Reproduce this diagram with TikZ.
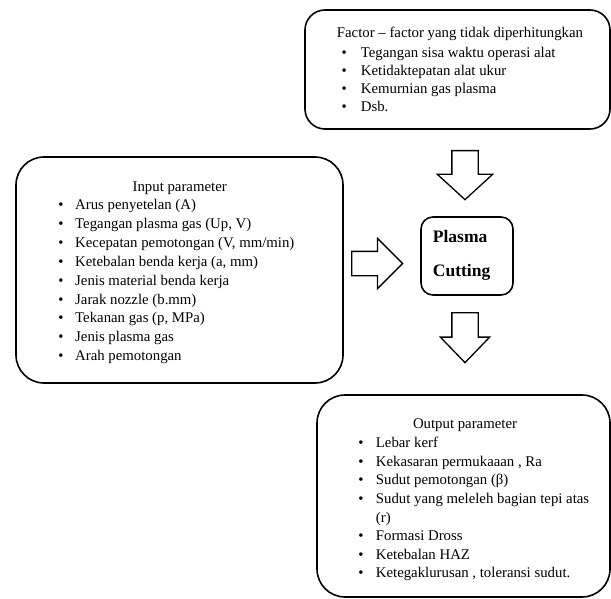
\documentclass[tikz,border=0pt]{standalone}
\usepackage{fontspec}
\setmainfont{Liberation Serif}
\usetikzlibrary{shapes.arrows, positioning}

\newcommand{\bul}[1]{\makebox[#1][l]{\textbullet}}

\begin{document}
\begin{tikzpicture}[x=1pt,y=1pt,
                    box/.style={draw,line width=1.6pt,rounded corners=28pt},
                    item/.style={anchor=base west,inner sep=0pt,font=\fontsize{14.8}{18}\selectfont},
                    ptext/.style={anchor=base west,inner sep=0pt,font=\bfseries\fontsize{17.5}{20}\selectfont},
                    blockarrow/.style={single arrow,draw,line width=1.3pt,inner xsep=0pt,single arrow head indent=0pt,anchor=tail}]

  \useasboundingbox (0,0) rectangle (611,-599);

  % boxes
  \node[box,rounded corners=20pt,minimum width=305pt,minimum height=119pt] (factor) at (457.5,-69.5) {};
  \node[box,minimum width=327pt,minimum height=226pt] (input) at (179.5,-270) {};
  \node[box,minimum width=293pt,minimum height=202pt] (output) at (463.5,-496) {};
  \node[box,rounded corners=12pt,minimum width=92pt,minimum height=78pt] (plasma) at (467,-256) {};

  % block arrows
  \node[blockarrow,rotate=-90,minimum height=49pt,inner ysep=12.5pt,
        single arrow head extend=14.5pt,single arrow tip angle=95] (down1) at (465,-150) {};
  \node[blockarrow,minimum height=51pt,inner ysep=11.5pt,
        single arrow head extend=13pt,single arrow tip angle=90] (right1) at (351,-263.5) {};
  \node[blockarrow,rotate=-90,minimum height=50pt,inner ysep=12.5pt,
        single arrow head extend=11.5pt,single arrow tip angle=88] (down2) at (465,-312) {};

  % factor box text
  \node[item] (ftitle) at (336.7,-37.3) {Factor -- factor yang tidak diperhitungkan};
  \foreach \txt [count=\i] in {Tegangan sisa waktu operasi alat, Ketidaktepatan alat ukur,
                               Kemurnian gas plasma, Dsb.}
    \node[item] (f\i) at (341.4,{-57.3-18.2*(\i-1)}) {\bul{19.3pt}\txt};

  % input box text
  \node[item,anchor=base] (intitle) at (179.7,-192) {Input parameter};
  \foreach \txt [count=\i] in {Arus penyetelan (A), {Tegangan plasma gas (Up, V)},
                               {Kecepatan pemotongan (V, mm/min)}, {Ketebalan benda kerja (a, mm)},
                               Jenis material benda kerja, Jarak nozzle (b.mm),
                               {Tekanan gas (p, MPa)}, Jenis plasma gas, Arah pemotongan}
    \node[item] (in\i) at (58.1,{-210-18.8*(\i-1)}) {\bul{16.9pt}\txt};

  % plasma text
  \node[ptext] (plasma1) at (432.7,-243) {Plasma};
  \node[ptext] (plasma2) at (432.7,-276.7) {Cutting};

  % output box text
  \node[item,anchor=base] (outtitle) at (465,-428) {Output parameter};
  \foreach \txt/\r in {Lebar kerf/0, {Kekasaran permukaaan , Ra}/1, Sudut pemotongan (β)/2,
                       Sudut yang meleleh bagian tepi atas/3, Formasi Dross/5,
                       Ketebalan HAZ/6, {Ketegaklurusan , toleransi sudut.}/7}
    \node[item] (out\r) at (358.1,{-447.5-18.6*\r}) {\bul{17.6pt}\txt};
  \node[item] (out4) at (375.7,-522) {(r)};

\end{tikzpicture}
\end{document}
